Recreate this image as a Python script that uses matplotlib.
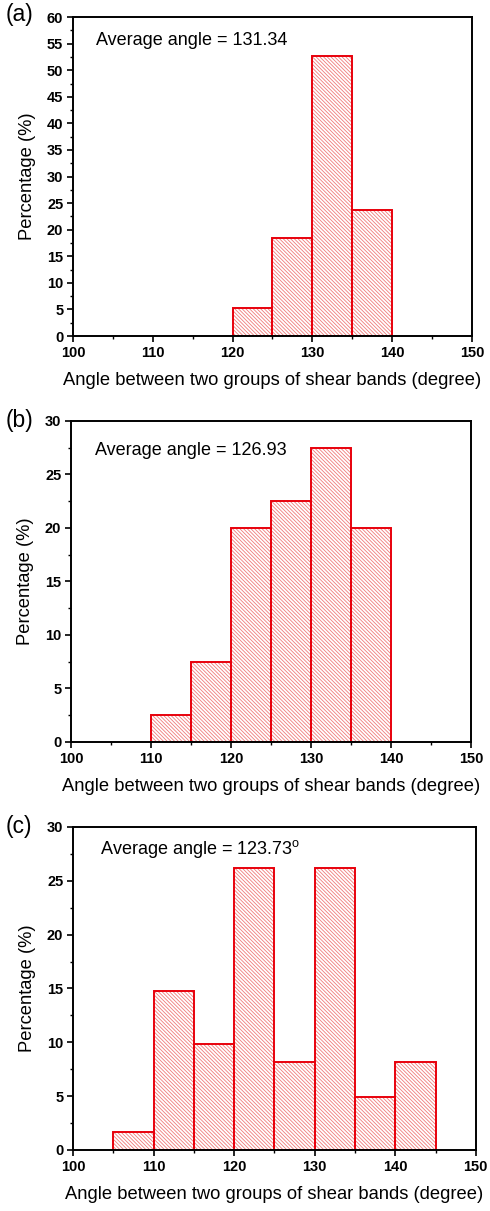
import numpy as np
import matplotlib
matplotlib.use("Agg")
import matplotlib.pyplot as plt
from matplotlib.ticker import MultipleLocator

plt.rcParams['font.family'] = ['Liberation Sans', 'DejaVu Sans']
plt.rcParams['mathtext.fontset'] = 'custom'
plt.rcParams['mathtext.rm'] = 'Liberation Sans'
plt.rcParams['hatch.linewidth'] = 0.6

# bin left edges (degree) and percentage of shear-band pairs in each bin
bins_a = [120, 125, 130, 135]
pct_a = [5.3, 18.4, 52.6, 23.7]

bins_b = [110, 115, 120, 125, 130, 135]
pct_b = [2.5, 7.5, 20.0, 22.5, 27.5, 20.0]

bins_c = [105, 110, 115, 120, 125, 130, 135, 140]
pct_c = [1.64, 14.75, 9.84, 26.23, 8.20, 26.23, 4.92, 8.20]

labels = ['(a)', '(b)', '(c)']
avg_text = ['Average angle = 131.34',
            'Average angle = 126.93',
            'Average angle = 123.73$^{\\mathrm{o}}$']
ymax = [60, 30, 30]

BIN_W = 5
RED = '#e8000b'
HATCH_RED = '#f07a7a'

fig = plt.figure(figsize=(4.9, 12.11), dpi=100)

# axes boxes [left, bottom, width, height] in figure fraction
boxes = [
    [0.149, 0.7225, 0.814, 0.2634],
    [0.145, 0.3873, 0.816, 0.2651],
    [0.149, 0.0504, 0.822, 0.2667],
]
text_pos = [(0.058, 0.928), (0.06, 0.907), (0.067, 0.932)]
label_y = [15, 420, 826]


def draw_panel(ax, bins, pct, top, note, note_xy):
    # light hatch first, then the solid outline on top
    ax.bar(bins, pct, width=BIN_W, align='edge', fill=False,
           hatch='\\' * 9, edgecolor=HATCH_RED, linewidth=0)
    ax.bar(bins, pct, width=BIN_W, align='edge', fill=False,
           edgecolor=RED, linewidth=1.4)

    ax.set_xlim(100, 150)
    ax.set_ylim(0, top)
    ax.xaxis.set_major_locator(MultipleLocator(10))
    ax.xaxis.set_minor_locator(MultipleLocator(5))
    ax.yaxis.set_major_locator(MultipleLocator(5))
    ax.yaxis.set_minor_locator(MultipleLocator(2.5))
    ax.tick_params(which='major', direction='out', length=4, width=1.2,
                   labelsize=10.5, pad=3)
    ax.tick_params(which='minor', direction='out', length=2.5, width=1.0)
    for lab in ax.get_xticklabels() + ax.get_yticklabels():
        lab.set_fontweight('bold')
    for sp in ax.spines.values():
        sp.set_linewidth(1.4)

    ax.set_xlabel('Angle between two groups of shear bands (degree)',
                  fontsize=13.2, labelpad=9)
    ax.set_ylabel('Percentage (%)', fontsize=13.2, labelpad=8)
    ax.text(note_xy[0], note_xy[1], note, transform=ax.transAxes,
            fontsize=13, va='center', ha='left')


data = [(bins_a, pct_a), (bins_b, pct_b), (bins_c, pct_c)]
for i, (bins, pct) in enumerate(data):
    ax = fig.add_axes(boxes[i])
    draw_panel(ax, bins, pct, ymax[i], avg_text[i], text_pos[i])
    fig.text(6 / 490, 1 - label_y[i] / 1211, labels[i], fontsize=16.5,
             va='center', ha='left')

fig.savefig('out.png', dpi=100)
